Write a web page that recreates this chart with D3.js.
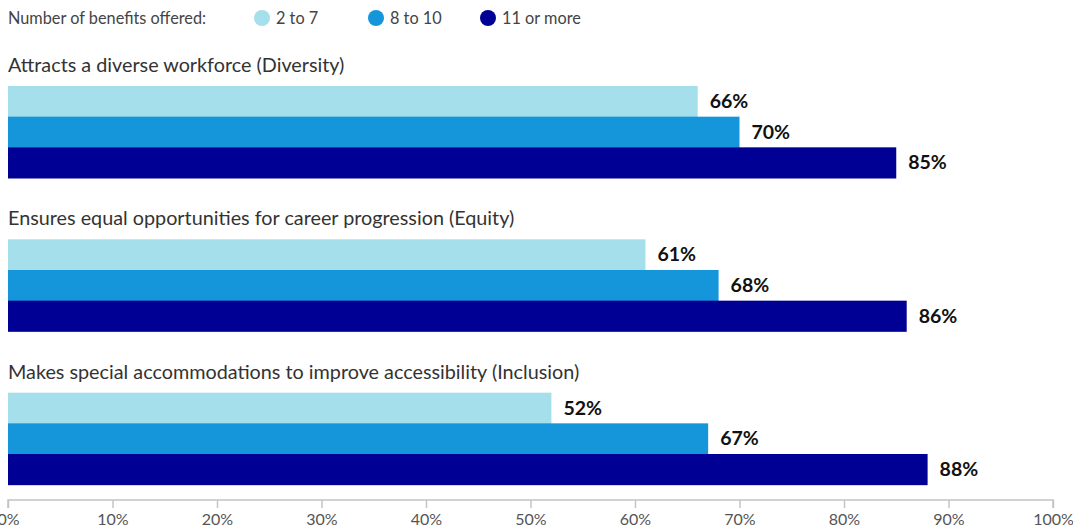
<!DOCTYPE html>
<html>
<head>
<meta charset="utf-8">
<script src="https://cdn.jsdelivr.net/npm/d3@7"></script>
<style>
  body { margin: 0; background: #fff; }
  svg { display: block; font-family: Lato, "Open Sans", sans-serif; }
</style>
</head>
<body>
<svg id="canvas" width="1073" height="531"></svg>
<script>
// data
const categories = [
  'Attracts a diverse workforce (Diversity)',
  'Ensures equal opportunities for career progression (Equity)',
  'Makes special accommodations to improve accessibility (Inclusion)'
];
const series = ['2 to 7', '8 to 10', '11 or more'];
const values = [
  [66, 70, 85],
  [61, 68, 86],
  [52, 67, 88]
];
const ticks = [0, 10, 20, 30, 40, 50, 60, 70, 80, 90, 100];
const colors = ['#a5dfeb', '#1595da', '#000094'];

const svg = d3.select('#canvas');

// scales
const x = d3.scaleLinear().domain([0, 100]).range([8, 1053]);
const groupY = d3.scaleBand().domain(categories).range([40, 500]).paddingInner(0).paddingOuter(0);
const barY = d3.scaleBand().domain(series).range([0, 92]);

// legend
const legend = svg.append('g').attr('transform', 'translate(0,18)');
legend.append('text')
  .attr('x', 8).attr('dy', '0.35em')
  .attr('font-size', 16.3).attr('fill', '#444')
  .text('Number of benefits offered:');
const legX = [262, 376, 488];
series.forEach((s, i) => {
  legend.append('circle').attr('cx', legX[i]).attr('cy', 0).attr('r', 8).attr('fill', colors[i]);
  legend.append('text')
    .attr('x', legX[i] + 14).attr('dy', '0.35em')
    .attr('font-size', 16.3).attr('fill', '#444')
    .text(s);
});

// groups
const groups = svg.selectAll('.group')
  .data(categories)
  .join('g')
    .attr('class', 'group')
    .attr('transform', d => `translate(0,${groupY(d)})`);

groups.append('text')
  .attr('x', 8).attr('y', 25).attr('dy', '0.35em')
  .attr('font-size', 19.8).attr('fill', '#333')
  .text(d => d);

groups.each(function(cat, gi) {
  const g = d3.select(this).append('g').attr('transform', 'translate(0,46)');
  const rows = series.map((s, i) => ({ s, v: values[gi][i], i }));
  g.selectAll('rect')
    .data(rows)
    .join('rect')
      .attr('x', x(0))
      .attr('y', d => barY(d.s))
      .attr('width', d => x(d.v) - x(0))
      .attr('height', barY.bandwidth() + 0.5)
      .attr('fill', d => colors[d.i]);
  g.selectAll('text.val')
    .data(rows)
    .join('text')
      .attr('class', 'val')
      .attr('x', d => x(d.v) + 12)
      .attr('y', d => barY(d.s) + barY.bandwidth() / 2)
      .attr('dy', '0.35em')
      .attr('font-size', 19.5).attr('font-weight', 'bold').attr('fill', '#111')
      .text(d => d.v + '%');
});

// axis
const axis = svg.append('g')
  .attr('transform', 'translate(0,500)')
  .call(d3.axisBottom(x).tickValues(ticks).tickFormat(d => d + '%').tickSize(8).tickPadding(6));
axis.selectAll('path, line').attr('stroke', '#c4c4c4').attr('stroke-width', 1.5);
axis.select('.domain').attr('d', `M${x(0)},8V0H${x(100)}V8`);
axis.selectAll('text').attr('font-size', 16).attr('fill', '#555').attr('font-family', 'Lato, sans-serif');
</script>
</body>
</html>
